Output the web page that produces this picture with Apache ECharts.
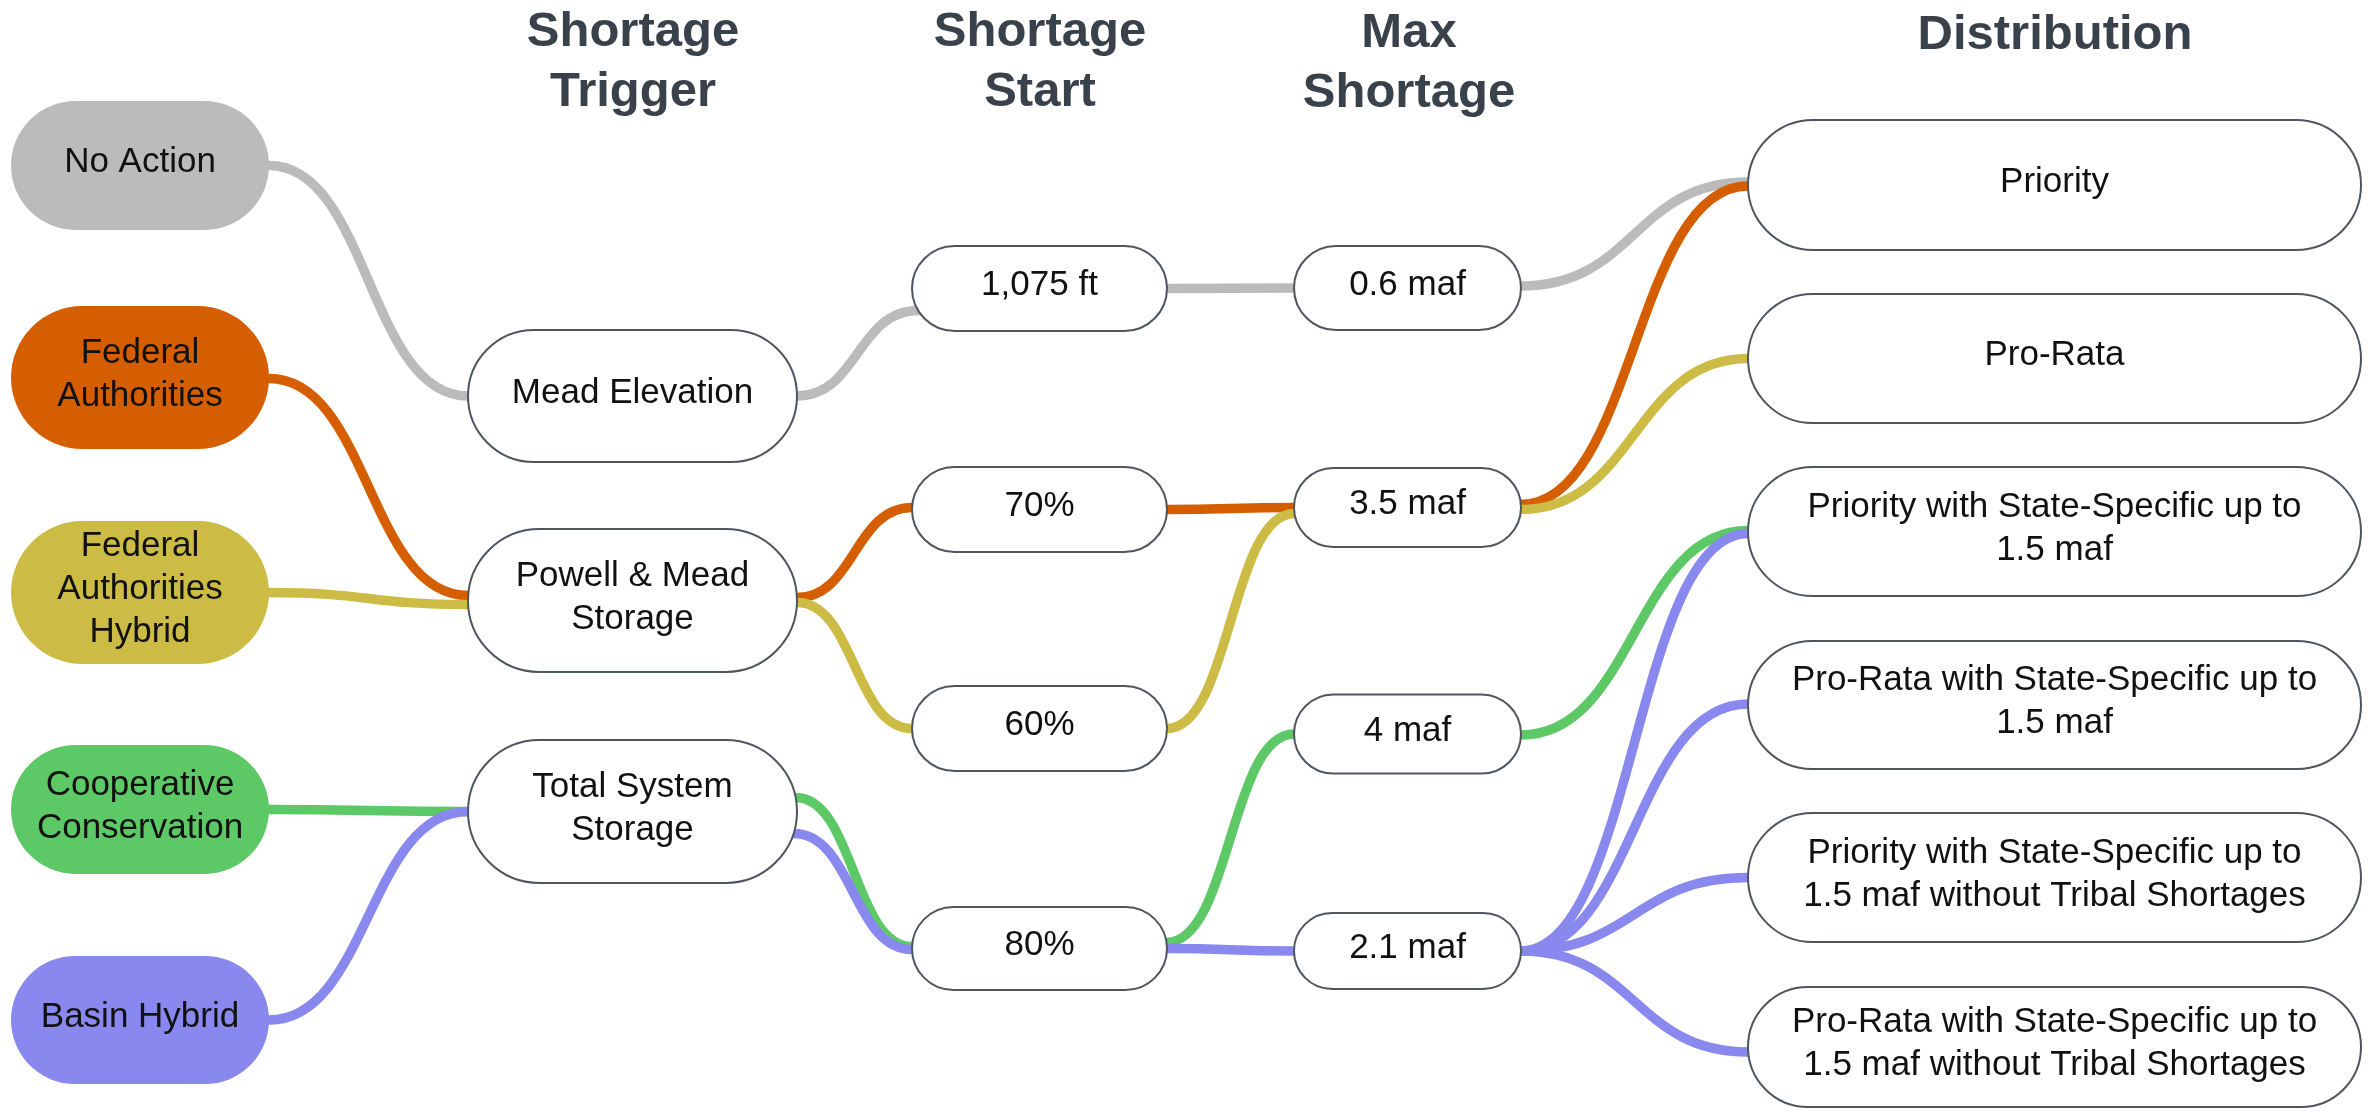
<!DOCTYPE html>
<html><head><meta charset="utf-8">
<script src="https://cdn.jsdelivr.net/npm/echarts@6/dist/echarts.min.js"></script>
<style>html,body{margin:0;padding:0;background:#fff}#chart{width:2369px;height:1112px}</style>
</head><body><div id="chart"></div>
<script>
// ---------------- DATA ----------------
const stageTitles = ['', 'Shortage\nTrigger', 'Shortage\nStart', 'Max\nShortage', 'Distribution'];

const alternatives = ['No Action', 'Federal Authorities', 'Federal Authorities Hybrid', 'Cooperative Conservation', 'Basin Hybrid'];
const alternativeLabels = ['No Action', 'Federal\nAuthorities', 'Federal\nAuthorities\nHybrid', 'Cooperative\nConservation', 'Basin Hybrid'];

const triggers = ['Mead Elevation', 'Powell & Mead Storage', 'Total System Storage'];
const triggerLabels = ['Mead Elevation', 'Powell & Mead\nStorage', 'Total System\nStorage'];

const shortageStarts = ['1,075 ft', '70%', '60%', '80%'];
const maxShortages = ['0.6 maf', '3.5 maf', '4 maf', '2.1 maf'];

const distributions = [
  'Priority',
  'Pro-Rata',
  'Priority with State-Specific up to 1.5 maf',
  'Pro-Rata with State-Specific up to 1.5 maf',
  'Priority with State-Specific up to 1.5 maf without Tribal Shortages',
  'Pro-Rata with State-Specific up to 1.5 maf without Tribal Shortages'
];
const distributionLabels = [
  'Priority',
  'Pro-Rata',
  'Priority with State-Specific up to\n1.5 maf',
  'Pro-Rata with State-Specific up to\n1.5 maf',
  'Priority with State-Specific up to\n1.5 maf without Tribal Shortages',
  'Pro-Rata with State-Specific up to\n1.5 maf without Tribal Shortages'
];

// each alternative's route through the stages
const routes = [
  ['No Action', 'Mead Elevation', '1,075 ft', '0.6 maf', ['Priority']],
  ['Federal Authorities', 'Powell & Mead Storage', '70%', '3.5 maf', ['Priority']],
  ['Federal Authorities Hybrid', 'Powell & Mead Storage', '60%', '3.5 maf', ['Pro-Rata']],
  ['Cooperative Conservation', 'Total System Storage', '80%', '4 maf', ['Priority with State-Specific up to 1.5 maf']],
  ['Basin Hybrid', 'Total System Storage', '80%', '2.1 maf', [
    'Priority with State-Specific up to 1.5 maf',
    'Pro-Rata with State-Specific up to 1.5 maf',
    'Priority with State-Specific up to 1.5 maf without Tribal Shortages',
    'Pro-Rata with State-Specific up to 1.5 maf without Tribal Shortages']]
];

// ---------------- LAYOUT & STYLE ----------------
const altColors = ['#BBBBBB', '#D55E00', '#CCBB44', '#5DC866', '#8888EE'];
const layout = {
  columns: [[11, 269], [468, 797], [912, 1167], [1294, 1521], [1748, 2361]],
  // [center, height] along the vertical layout axis
  nodes: {
    'No Action': [165.5, 129], 'Federal Authorities': [377.5, 143], 'Federal Authorities Hybrid': [592.5, 143],
    'Cooperative Conservation': [809.5, 129], 'Basin Hybrid': [1020, 128],
    'Mead Elevation': [396, 132], 'Powell & Mead Storage': [600.5, 143], 'Total System Storage': [811.5, 143],
    '1,075 ft': [288.5, 85], '70%': [509.5, 85], '60%': [728.5, 85], '80%': [948.5, 83],
    '0.6 maf': [288, 84], '3.5 maf': [507.5, 79], '4 maf': [734, 79], '2.1 maf': [951, 76],
    'Priority': [185, 130], 'Pro-Rata': [358.5, 129],
    'Priority with State-Specific up to 1.5 maf': [531.5, 129],
    'Pro-Rata with State-Specific up to 1.5 maf': [705, 128],
    'Priority with State-Specific up to 1.5 maf without Tribal Shortages': [877.5, 129],
    'Pro-Rata with State-Specific up to 1.5 maf without Tribal Shortages': [1047, 120]
  },
  // attachment offsets [out, in] per link
  ports: {
    'No Action|Mead Elevation|1,075 ft': [0, 22],
    'No Action|0.6 maf|Priority': [-2, -3],
    'Federal Authorities|Federal Authorities|Powell & Mead Storage': [1, -5],
    'Federal Authorities|Powell & Mead Storage|70%': [-3, -2],
    'Federal Authorities|3.5 maf|Priority': [-3, 1],
    'Federal Authorities Hybrid|Federal Authorities Hybrid|Powell & Mead Storage': [0, 4],
    'Federal Authorities Hybrid|Powell & Mead Storage|60%': [2, 0],
    'Federal Authorities Hybrid|60%|3.5 maf': [0, 6],
    'Federal Authorities Hybrid|3.5 maf|Pro-Rata': [2, 0],
    'Cooperative Conservation|Total System Storage|80%': [-14, -2],
    'Cooperative Conservation|80%|4 maf': [-6, 0],
    'Cooperative Conservation|4 maf|Priority with State-Specific up to 1.5 maf': [1, -1],
    'Basin Hybrid|Total System Storage|80%': [22, 1],
    'Basin Hybrid|2.1 maf|Priority with State-Specific up to 1.5 maf': [0, 2],
    'Basin Hybrid|2.1 maf|Pro-Rata with State-Specific up to 1.5 maf': [0, -1],
    'Basin Hybrid|2.1 maf|Priority with State-Specific up to 1.5 maf without Tribal Shortages': [0, 0],
    'Basin Hybrid|2.1 maf|Pro-Rata with State-Specific up to 1.5 maf without Tribal Shortages': [0, 5]
  },
  titleCenters: [0, 633, 1040, 1409, 2055],
  titleTops: [0, 2, 2, 3, 5],
  labelShift: -3
};

// ---------------- BUILD ----------------
const stages = [
  [alternatives, alternativeLabels],
  [triggers, triggerLabels],
  [shortageStarts, shortageStarts],
  [maxShortages, maxShortages],
  [distributions, distributionLabels]
];
const nodeList = [];
const nodeByName = {};
stages.forEach(([names, labels], col) => {
  names.forEach((name, i) => {
    const [cy, h] = layout.nodes[name];
    const n = {
      name, label: labels[i], col,
      x0: layout.columns[col][0], x1: layout.columns[col][1], cy, h,
      fill: col === 0 ? altColors[i] : '#FFFFFF',
      stroke: col === 0 ? null : '#4F565E'
    };
    nodeList.push(n);
    nodeByName[name] = n;
  });
});

const linkList = [];
routes.forEach((r, ai) => {
  const seq = [r[0], r[1], r[2], r[3]];
  for (let k = 0; k < seq.length - 1; k++) {
    linkList.push({ alt: r[0], s: seq[k], t: seq[k + 1], color: altColors[ai] });
  }
  r[4].forEach(d => linkList.push({ alt: r[0], s: r[3], t: d, color: altColors[ai] }));
});

const chart = echarts.init(document.getElementById('chart'), null, { renderer: 'canvas' });

function edgeX(n, side, dy, api) {
  const tl = api.coord([n.x0, n.cy - n.h / 2]);
  const br = api.coord([n.x1, n.cy + n.h / 2]);
  const c = api.coord([n.x0, n.cy + dy]);
  const r = (br[1] - tl[1]) / 2;
  const off = r - Math.sqrt(Math.max(0, r * r - Math.pow(c[1] - (tl[1] + r), 2)));
  return side === 'right' ? [br[0] - off, c[1]] : [tl[0] + off, c[1]];
}

const option = {
  animation: false,
  backgroundColor: '#FFFFFF',
  title: stageTitles.map((t, i) => ({
    text: t,
    left: layout.titleCenters[i],
    top: layout.titleTops[i],
    textAlign: 'center',
    padding: 0,
    textStyle: { fontSize: 49, fontWeight: 'bold', fontFamily: 'Liberation Sans', color: '#39414B', lineHeight: 60 }
  })).filter(t => t.text),
  grid: { left: 0, right: 0, top: 0, bottom: 0 },
  xAxis: { type: 'value', min: 0, max: 2369, show: false },
  yAxis: { type: 'value', min: 0, max: 1112, inverse: true, show: false },
  series: [
    {
      type: 'custom',
      name: 'links',
      z: 2,
      silent: true,
      data: linkList.map(l => [nodeByName[l.s].x1, nodeByName[l.s].cy]),
      renderItem(params, api) {
        const l = linkList[params.dataIndex];
        const s = nodeByName[l.s], t = nodeByName[l.t];
        const p = layout.ports[l.alt + '|' + l.s + '|' + l.t] || [0, 0];
        const a = edgeX(s, 'right', p[0], api);
        const b = edgeX(t, 'left', p[1], api);
        const dx = b[0] - a[0];
        const k = 0.5;
        const d = `M ${a[0] - 8} ${a[1]} L ${a[0]} ${a[1]} C ${a[0] + k * dx} ${a[1]} ${b[0] - k * dx} ${b[1]} ${b[0]} ${b[1]} L ${b[0] + 8} ${b[1]}`;
        return {
          type: 'path',
          shape: { pathData: d },
          style: { fill: null, stroke: l.color, lineWidth: 9.5, lineJoin: 'round' }
        };
      }
    },
    {
      type: 'custom',
      name: 'nodes',
      z: 3,
      silent: true,
      data: nodeList.map(n => [(n.x0 + n.x1) / 2, n.cy]),
      renderItem(params, api) {
        const n = nodeList[params.dataIndex];
        const p0 = api.coord([n.x0, n.cy - n.h / 2]);
        const p1 = api.coord([n.x1, n.cy + n.h / 2]);
        const w = p1[0] - p0[0], h = p1[1] - p0[1];
        return {
          type: 'group',
          children: [
            {
              type: 'rect',
              shape: { x: p0[0], y: p0[1], width: w, height: h, r: h / 2 },
              style: { fill: n.fill, stroke: n.stroke, lineWidth: 2 }
            },
            {
              type: 'text',
              style: {
                text: n.label, x: p0[0] + w / 2, y: p0[1] + h / 2 + layout.labelShift,
                align: 'center', verticalAlign: 'middle',
                fontSize: 35, fontFamily: 'Liberation Sans', fill: '#111111', lineHeight: 43
              }
            }
          ]
        };
      }
    }
  ]
};
chart.setOption(option);
</script></body></html>
